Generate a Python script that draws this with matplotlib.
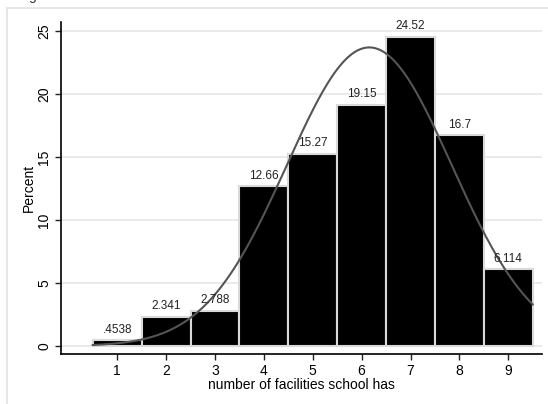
import matplotlib.pyplot as plt
import numpy as np

# Histogram data (percent per number of facilities)
facilities = [1, 2, 3, 4, 5, 6, 7, 8, 9]
percents = [0.4538, 2.341, 2.788, 12.66, 15.27, 19.15, 24.52, 16.7, 6.114]
bar_labels = ['.4538', '2.341', '2.788', '12.66', '15.27', '19.15', '24.52', '16.7', '6.114']
y_ticks = [0, 5, 10, 15, 20, 25]

plt.rcParams['font.family'] = ['Liberation Sans', 'DejaVu Sans']

fig = plt.figure(figsize=(5.48, 4.04), dpi=100)
ax = fig.add_axes([61 / 548, 1 - 354 / 404, (542 - 61) / 548, (354 - 22) / 404])

# outer light frame (only left and top edges are visible)
fig.add_artist(plt.Line2D([7 / 548, 7 / 548], [0, 1 - 8 / 404], color='#e3e3e3', lw=1.2,
                          transform=fig.transFigure))
fig.add_artist(plt.Line2D([7 / 548, 1], [1 - 8 / 404, 1 - 8 / 404], color='#e3e3e3', lw=1.2,
                          transform=fig.transFigure))
fig.text(32 / 548, 1.0, 'g', fontsize=10, va='baseline', ha='center', color='#333333')

# bars
bars = ax.bar(facilities, percents, width=1.0, color='black', edgecolor='#d9d9d9',
              linewidth=1.5, zorder=2)
for b, lab in zip(bars, bar_labels):
    ax.text(b.get_x() + b.get_width() / 2, b.get_height() + 0.35, lab,
            ha='center', va='bottom', fontsize=8.5, color='#222222', zorder=4)

# normal density overlay from the histogram's mean and sd
vals = np.array(facilities, dtype=float)
p = np.array(percents) / np.sum(percents)
mean = np.sum(vals * p)
sd = np.sqrt(np.sum(p * (vals - mean) ** 2))
xs = np.linspace(0.5, 9.5, 300)
ys = 100 / (sd * np.sqrt(2 * np.pi)) * np.exp(-0.5 * ((xs - mean) / sd) ** 2)
ax.plot(xs, ys, color='#555555', linewidth=1.5, zorder=3)

ax.set_xlim(-0.15, 9.69)
ax.set_ylim(-0.63, 25.7)
ax.set_xticks(facilities)
ax.set_yticks(y_ticks)
ax.set_yticklabels([str(t) for t in y_ticks], rotation=90, va='center')
ax.tick_params(axis='both', labelsize=10, length=4.5, width=1, color='#222222')
ax.tick_params(axis='y', pad=2.5)
ax.tick_params(axis='x', pad=3)

ax.grid(axis='y', color='#e6e6e6', linewidth=1.2, zorder=0)
ax.set_axisbelow(True)
for s in ['top', 'right']:
    ax.spines[s].set_visible(False)
for s in ['left', 'bottom']:
    ax.spines[s].set_linewidth(1.2)

ax.set_xlabel('number of facilities school has', fontsize=10, labelpad=0)
ax.set_ylabel('Percent', fontsize=10, labelpad=1)

fig.savefig('out.png', dpi=100)
